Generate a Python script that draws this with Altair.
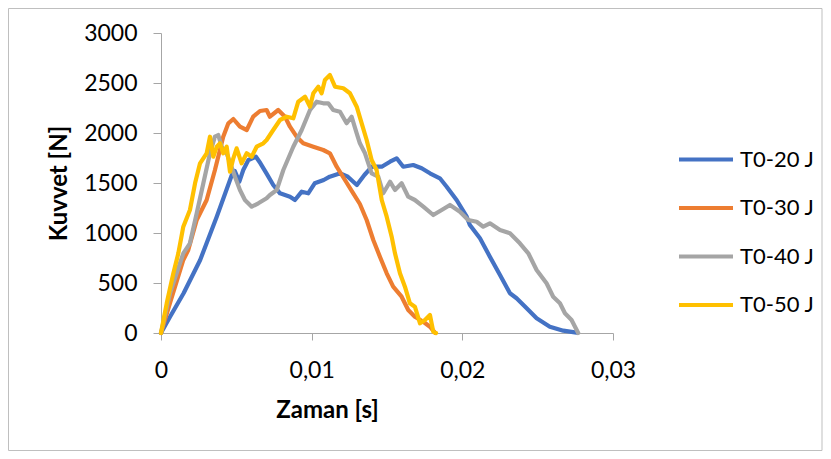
import altair as alt
import pandas as pd

# ---- data ----
T20_t = [0, 0.0006, 0.0015, 0.0026, 0.0037, 0.0047, 0.0049, 0.0052, 0.00546, 0.0058, 0.0063,
         0.0066, 0.0070, 0.00745, 0.0079, 0.00856, 0.00889, 0.00934, 0.00977, 0.0102, 0.0108,
         0.0112, 0.0119, 0.0124, 0.0130, 0.0135, 0.0140, 0.01465, 0.0152, 0.01564, 0.01608,
         0.01674, 0.0173, 0.01785, 0.01851, 0.01896, 0.01962, 0.02029, 0.0205, 0.02117, 0.02183,
         0.0225, 0.02316, 0.0236, 0.02427, 0.02493, 0.02581, 0.0267, 0.02758]
T20_F = [0, 163, 397, 730, 1163, 1580, 1620, 1513, 1630, 1730, 1763,
         1697, 1597, 1480, 1397, 1363, 1330, 1413, 1397, 1497, 1530,
         1563, 1597, 1563, 1480, 1580, 1663, 1663, 1713, 1747, 1663,
         1680, 1647, 1597, 1547, 1463, 1330, 1163, 1080, 947, 763,
         580, 397, 347, 247, 147, 63, 23, 3]

T30_t = [0, 0.0006, 0.00148, 0.00181, 0.00237, 0.00303, 0.00358, 0.00413, 0.00447, 0.0048,
         0.00524, 0.00569, 0.00612, 0.00657, 0.00701, 0.00723, 0.00778, 0.00823, 0.00856, 0.009,
         0.00944, 0.01011, 0.01077, 0.01121, 0.01166, 0.01221, 0.01276, 0.0132, 0.01365, 0.01409,
         0.01453, 0.01498, 0.01541, 0.01597, 0.01641, 0.01685, 0.01741, 0.01785, 0.01818]
T30_F = [0, 300, 730, 830, 1130, 1330, 1630, 1963, 2097, 2140,
         2063, 2030, 2163, 2220, 2230, 2163, 2230, 2163, 2063, 1963,
         1897, 1863, 1830, 1797, 1663, 1530, 1397, 1290, 1130, 930,
         763, 597, 463, 363, 230, 163, 113, 63, 3]

T40_t = [0, 0.0006, 0.00148, 0.00192, 0.00237, 0.00281, 0.00325, 0.00358, 0.0038, 0.00403,
         0.00436, 0.00491, 0.00524, 0.00557, 0.00602, 0.00646, 0.00701, 0.00723, 0.00768, 0.00812,
         0.00878, 0.00934, 0.00989, 0.01033, 0.01077, 0.0111, 0.01143, 0.01188, 0.01232, 0.01265,
         0.01299, 0.0132, 0.01354, 0.01398, 0.01442, 0.01475, 0.0152, 0.01553, 0.01597, 0.01641,
         0.01685, 0.01741, 0.01807, 0.01863, 0.01918, 0.01984, 0.02039, 0.02095, 0.02139, 0.02183,
         0.0225, 0.02316, 0.02382, 0.02438, 0.02493, 0.02559, 0.02603, 0.02648, 0.02681, 0.02725,
         0.02769]
T40_F = [0, 400, 797, 897, 1197, 1497, 1797, 1963, 1980, 1863,
         1797, 1563, 1430, 1330, 1263, 1297, 1347, 1380, 1430, 1630,
         1863, 2030, 2230, 2313, 2297, 2297, 2230, 2213, 2097, 2163,
         1997, 1897, 1797, 1597, 1563, 1397, 1513, 1430, 1497, 1363,
         1330, 1263, 1180, 1230, 1280, 1213, 1130, 1113, 1063, 1097,
         1030, 997, 897, 797, 630, 497, 363, 297, 197, 130,
         0]

T50_t = [0, 0.00038, 0.00082, 0.00115, 0.00148, 0.00192, 0.00226, 0.00259, 0.00303, 0.00325,
         0.00347, 0.0037, 0.00392, 0.00413, 0.00436, 0.00458, 0.0048, 0.00502, 0.00535, 0.00569,
         0.00602, 0.00635, 0.00679, 0.00701, 0.00745, 0.0079, 0.00834, 0.00878, 0.00911, 0.00956,
         0.00989, 0.01011, 0.01044, 0.01066, 0.01088, 0.01121, 0.01155, 0.0121, 0.01254, 0.01299,
         0.01332, 0.01365, 0.01398, 0.01431, 0.01465, 0.01498, 0.01531, 0.01553, 0.01586, 0.01619,
         0.01652, 0.01685, 0.01719, 0.01752, 0.01785, 0.01807, 0.01825]
T50_F = [0, 297, 597, 797, 1063, 1230, 1497, 1697, 1797, 1963,
         1763, 1863, 1897, 1797, 1863, 1613, 1747, 1847, 1697, 1797,
         1763, 1863, 1897, 1930, 2030, 2130, 2163, 2147, 2313, 2363,
         2263, 2397, 2463, 2397, 2530, 2580, 2463, 2447, 2397, 2263,
         2097, 1930, 1730, 1630, 1330, 1163, 963, 797, 597, 463,
         297, 263, 97, 130, 180, 13, 0]

series_names = ["T0-20 J", "T0-30 J", "T0-40 J", "T0-50 J"]
series_colors = ["#4472C4", "#ED7D31", "#A5A5A5", "#FFC000"]
x_ticks = [0, 0.01, 0.02, 0.03]
y_ticks = [0, 500, 1000, 1500, 2000, 2500, 3000]

rows = []
for name, ts, fs in zip(series_names, [T20_t, T30_t, T40_t, T50_t], [T20_F, T30_F, T40_F, T50_F]):
    for t, f in zip(ts, fs):
        rows.append({"Zaman": t, "Kuvvet": f, "Seri": name})
df = pd.DataFrame(rows)

FONT = "Lato"
W, H = 452, 300

lines = alt.Chart(df).mark_line(strokeWidth=4.2, strokeJoin="round", strokeCap="round").encode(
    x=alt.X("Zaman:Q",
            scale=alt.Scale(domain=[0, 0.03], nice=False, zero=False),
            axis=alt.Axis(values=x_ticks, title="Zaman [s]", grid=False, labelFlush=False,
                          labelExpr="replace(toString(datum.value), '.', ',')",
                          tickSize=7, labelPadding=19, domainColor="#A6A6A6", tickColor="#A6A6A6",
                          titleX=166, titleY=84, titleBaseline="alphabetic", titleAlign="center")),
    y=alt.Y("Kuvvet:Q",
            scale=alt.Scale(domain=[0, 3000], nice=False),
            axis=alt.Axis(values=y_ticks, title="Kuvvet [N]", grid=False, format="d", labelFlush=False,
                          tickSize=8, labelPadding=16, domainColor="#A6A6A6", tickColor="#A6A6A6",
                          titleX=-102, titleY=150, titleAngle=270, titleAlign="center",
                          titleBaseline="middle")),
    color=alt.Color("Seri:N",
                    scale=alt.Scale(domain=series_names, range=series_colors),
                    legend=alt.Legend(title=None, orient="none", legendX=529.5, legendY=111,
                                      symbolType="M-2,0H2", symbolSize=729, symbolStrokeWidth=4,
                                      labelOffset=18.5, rowPadding=21.5, padding=0,
                                      labelFontSize=22, labelFont=FONT, labelColor="#000000")),
)

border = alt.Chart(alt.Data(values=[{}])).mark_rect(fill=None, stroke="#BFBFBF", strokeWidth=1).encode(
    x=alt.value(-152.5), x2=alt.value(661), y=alt.value(-24.5), y2=alt.value(417.5)
)

chart = alt.layer(border, lines).properties(
    width=W, height=H,
    autosize=alt.AutoSizeParams(type="none"),
    padding={"left": 153, "top": 25, "right": 210, "bottom": 118},
).configure_view(stroke=None).configure_axis(
    labelFont=FONT, labelFontSize=23, labelColor="#000000",
    titleFont=FONT, titleFontSize=24, titleFontWeight="bold", titleColor="#000000",
)

chart.save("out.html", embed_options={"renderer": "svg", "actions": False})
